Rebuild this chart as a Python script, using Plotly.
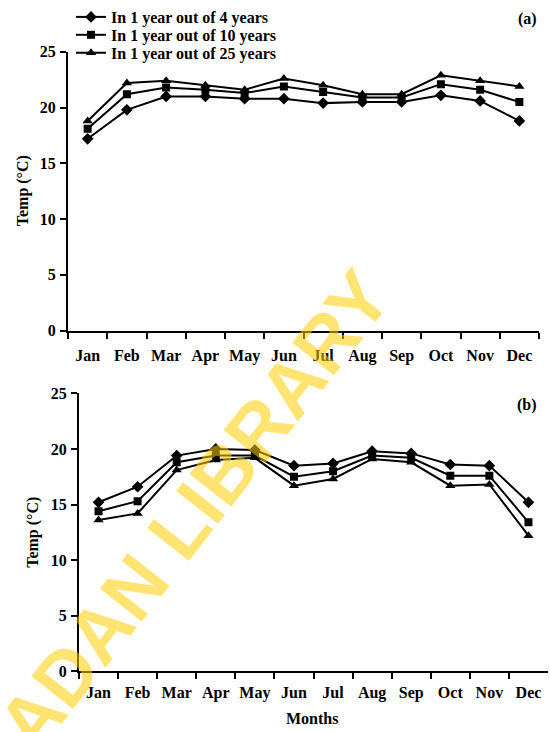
import plotly.graph_objects as go

months = ["Jan", "Feb", "Mar", "Apr", "May", "Jun", "Jul", "Aug", "Sep", "Oct", "Nov", "Dec"]
series_names = ["In 1 year out of 4 years", "In 1 year out of 10 years", "In 1 year out of 25 years"]

a_4yr = [17.2, 19.8, 21.0, 21.0, 20.8, 20.8, 20.4, 20.5, 20.5, 21.1, 20.6, 18.8]
a_10yr = [18.1, 21.2, 21.8, 21.6, 21.3, 21.9, 21.4, 20.9, 20.9, 22.1, 21.6, 20.5]
a_25yr = [18.8, 22.2, 22.4, 22.0, 21.6, 22.6, 22.0, 21.2, 21.2, 22.9, 22.4, 21.9]

b_4yr = [15.2, 16.6, 19.4, 20.0, 19.9, 18.5, 18.7, 19.8, 19.6, 18.6, 18.5, 15.2]
b_10yr = [14.4, 15.3, 18.8, 19.4, 19.4, 17.5, 18.0, 19.4, 19.2, 17.6, 17.6, 13.4]
b_25yr = [13.6, 14.2, 18.1, 19.0, 19.2, 16.7, 17.3, 19.1, 18.8, 16.7, 16.8, 12.2]

y_ticks = [0, 5, 10, 15, 20, 25]

W, H = 550, 732
FONT = "Liberation Serif"
FS = 16
symbols = ["diamond", "square", "triangle-up"]
sizes = [9, 8, 9]
legend_ids = ["legend", "legend2", "legend3"]
legend_rows = [15, 33, 51]

fig = go.Figure()

for i, (vals, name) in enumerate(zip([a_4yr, a_10yr, a_25yr], series_names)):
    fig.add_trace(go.Scatter(
        x=months, y=vals, name=name, mode="lines+markers",
        line=dict(color="black", width=2),
        marker=dict(symbol=symbols[i], size=sizes[i], color="black"),
        xaxis="x", yaxis="y", showlegend=True, legend=legend_ids[i]))

for i, (vals, name) in enumerate(zip([b_4yr, b_10yr, b_25yr], series_names)):
    fig.add_trace(go.Scatter(
        x=months, y=vals, name=name, mode="lines+markers",
        line=dict(color="black", width=2),
        marker=dict(symbol=symbols[i], size=sizes[i], color="black"),
        xaxis="x2", yaxis="y2", showlegend=False))

# the page is photographed with the plot area spanning image rows ~8..724
TOP, SPAN = 8, 716

def px_x(p):
    return p / W

def px_y(p):
    return 1 - (p - TOP) / SPAN

tickfont = dict(family=FONT, size=FS, color="black", weight="bold")
axis_common = dict(showline=True, linecolor="black", linewidth=2, ticks="outside",
                   tickcolor="black", tickwidth=2, ticklen=6, showgrid=False,
                   zeroline=False, tickfont=tickfont, tickangle=0)

legend_common = dict(xanchor="left", yanchor="middle", bgcolor="rgba(0,0,0,0)",
                     font=dict(family=FONT, size=FS, color="black", weight="bold"),
                     itemwidth=30, borderwidth=0)

fig.update_layout(
    width=W, height=H, margin=dict(l=0, r=0, t=0, b=0),
    paper_bgcolor="white", plot_bgcolor="white",
    font=dict(family=FONT, size=FS, color="black"),
    xaxis=dict(domain=[px_x(68), px_x(539)], anchor="y", type="category",
               categoryorder="array", categoryarray=months,
               range=[-0.5, 11.5], tickson="boundaries", ticklabelstandoff=9, **axis_common),
    yaxis=dict(domain=[px_y(330), px_y(50)], anchor="x", range=[0, 25],
               tickvals=y_ticks, ticklabelstandoff=1, **axis_common),
    xaxis2=dict(domain=[px_x(79), px_x(548)], anchor="y2", type="category",
                categoryorder="array", categoryarray=months,
                range=[-0.5, 11.5], tickson="boundaries", ticklabelstandoff=6, **axis_common),
    yaxis2=dict(domain=[px_y(672), px_y(393)], anchor="x2", range=[0, 25],
                tickvals=y_ticks, ticklabelstandoff=1, **axis_common),
    legend=dict(x=px_x(71), y=px_y(legend_rows[0]), **legend_common),
    legend2=dict(x=px_x(71), y=px_y(legend_rows[1]), **legend_common),
    legend3=dict(x=px_x(71), y=px_y(legend_rows[2]), **legend_common),
)

annotations = [
    dict(text="Temp (°C)", x=px_x(23), y=px_y(190), textangle=-90),
    dict(text="Temp (°C)", x=px_x(33), y=px_y(533), textangle=-90),
    dict(text="Months", x=px_x(312), y=px_y(719)),
    dict(text="(a)", x=px_x(527), y=px_y(17)),
    dict(text="(b)", x=px_x(527), y=px_y(405)),
]
for a in annotations:
    fig.add_annotation(xref="paper", yref="paper", showarrow=False,
                       xanchor="center", yanchor="middle",
                       font=dict(family=FONT, size=FS, color="black", weight="bold"), **a)

fig.add_annotation(text="<b>IBADAN LIBRARY</b>", xref="paper", yref="paper",
                   x=px_x(170), y=px_y(541), showarrow=False, textangle=-52,
                   xanchor="center", yanchor="middle",
                   font=dict(family="Liberation Sans", size=77, color="rgba(255,205,0,0.55)"))

fig.write_html("out.html", config={"displayModeBar": False},
               post_script="document.body.style.margin='0px';")
